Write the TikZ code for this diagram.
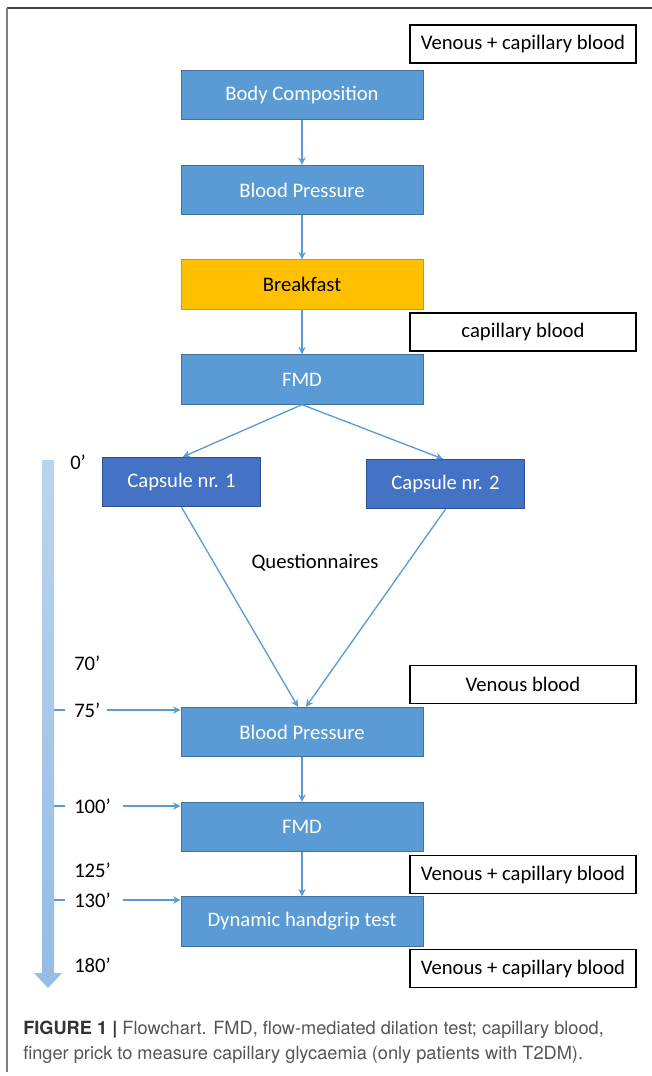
\documentclass[tikz,border=0pt]{standalone}
\usepackage{fontspec}
\setmainfont{Carlito}
\newfontfamily\capfont{TeX Gyre Heros}
\usetikzlibrary{arrows.meta}

\definecolor{boxblue}{HTML}{5B9BD5}
\definecolor{boxedge}{HTML}{41719C}
\definecolor{capblue}{HTML}{4472C4}
\definecolor{capedge}{HTML}{2F528F}
\definecolor{mealorange}{HTML}{FFC000}
\definecolor{mealedge}{HTML}{C9A000}
\definecolor{lineblue}{HTML}{5B9BD5}
\definecolor{tlinetop}{HTML}{BCD3EE}
\definecolor{tlinebot}{HTML}{94BCE5}
\definecolor{captext}{HTML}{555555}

\tikzset{
  stepbox/.style={rectangle, fill=boxblue, draw=boxedge, line width=0.75pt, text=white,
    minimum width=181.5pt, minimum height=37pt, inner sep=0pt, font=\fontsize{15.5}{18}\selectfont},
  capbox/.style={stepbox, fill=capblue, draw=capedge, minimum width=118.5pt},
  mealbox/.style={stepbox, fill=mealorange, draw=mealedge, text=black},
  samplebox/.style={rectangle, draw=black, fill=white, line width=0.9pt,
    minimum width=169.5pt, minimum height=28.5pt, inner sep=0pt, font=\fontsize{15.5}{18}\selectfont},
  timelabel/.style={anchor=west, inner sep=0pt, font=\fontsize{15.5}{18}\selectfont},
  flow/.style={draw=lineblue, line width=1pt, -{Stealth[length=5.5pt, width=5.5pt]}}
}

\begin{document}
\begin{tikzpicture}[x=0.75pt, y=-0.75pt]
  \useasboundingbox (0,0) rectangle (652,1076);

  % Frame
  \draw[black!75, line width=1.2pt] (7,8) -- (652,8);
  \draw[black!50, line width=1.2pt] (7,8) -- (7,1072);

  % Sampling boxes
  \node[samplebox] (S1) at (523,44) {Venous + capillary blood};
  \node[samplebox] (S2) at (523,332) {capillary blood};
  \node[samplebox] (S3) at (523,684.5) {Venous blood};
  \node[samplebox] (S4) at (523,874.5) {Venous + capillary blood};
  \node[samplebox] (S5) at (523,968.5) {Venous + capillary blood};

  % Steps before the capsule
  \node[stepbox] (body) at (302,95) {Body Composition};
  \node[stepbox] (bp1) at (302,190) {Blood Pressure};
  \node[mealbox] (meal) at (302,284.5) {Breakfast};
  \node[stepbox] (fmd1) at (302,379.5) {FMD};

  % Capsules
  \node[capbox] (cap1) at (181.5,482) {Capsule nr. 1};
  \node[capbox] (cap2) at (445.5,484) {Capsule nr. 2};
  \node[timelabel, anchor=center] (quest) at (315,563) {Questionnaires};

  % Steps after the capsule
  \node[stepbox] (bp2) at (302,732) {Blood Pressure};
  \node[stepbox] (fmd2) at (302,827) {FMD};
  \node[stepbox] (grip) at (302,921.5) {Dynamic handgrip test};

  % Connections
  \draw[flow] (body) -- (bp1);
  \draw[flow] (bp1) -- (meal);
  \draw[flow] (meal) -- (fmd1);
  \draw[flow] (fmd1.south) -- ([xshift=1pt]cap1.north);
  \draw[flow] (fmd1.south) -- ([xshift=-2pt]cap2.north);
  \draw[flow] (cap1.south) -- ([xshift=-3pt]bp2.north);
  \draw[flow] (cap2.south) -- ([xshift=3pt]bp2.north);
  \draw[flow] (bp2) -- (fmd2);
  \draw[flow] (fmd2) -- (grip);

  % Time line
  \shade[top color=tlinetop, bottom color=tlinebot]
    (42,460) -- (54,460) -- (54,973) -- (62,973) -- (48,988) -- (34,973) -- (42,973) -- cycle;

  % Time labels
  \node[timelabel] (t0) at (70,462) {0’};
  \node[timelabel] (t70) at (74,663) {70’};
  \node[timelabel] (t75) at (74,710) {75’};
  \node[timelabel] (t100) at (74,806) {100’};
  \node[timelabel] (t125) at (74,870) {125’};
  \node[timelabel] (t130) at (74,900) {130’};
  \node[timelabel] (t180) at (74,965) {180’};

  % Ticks and arrows to the steps
  \foreach \t/\b/\g in {t75/bp2/4.5pt, t100/fmd2/9pt, t130/grip/9pt} {
    \draw[lineblue, line width=1pt] (\t.west -| 54,0) -- ([xshift=-7pt]\t.west);
    \draw[flow] ([xshift=\g]\t.east) -- (\t.east -| \b.west);
  }

  % Caption
  \node[anchor=base west, inner sep=0pt, align=left, text=captext,
    font=\capfont\fontsize{13.65}{18.75}\selectfont] (caption) at (23,1059)
    {{\bfseries\color{black!80}FIGURE 1 |} Flowchart. FMD, flow-mediated dilation test; capillary blood,\\
     finger prick to measure capillary glycaemia (only patients with T2DM).};
\end{tikzpicture}
\end{document}
